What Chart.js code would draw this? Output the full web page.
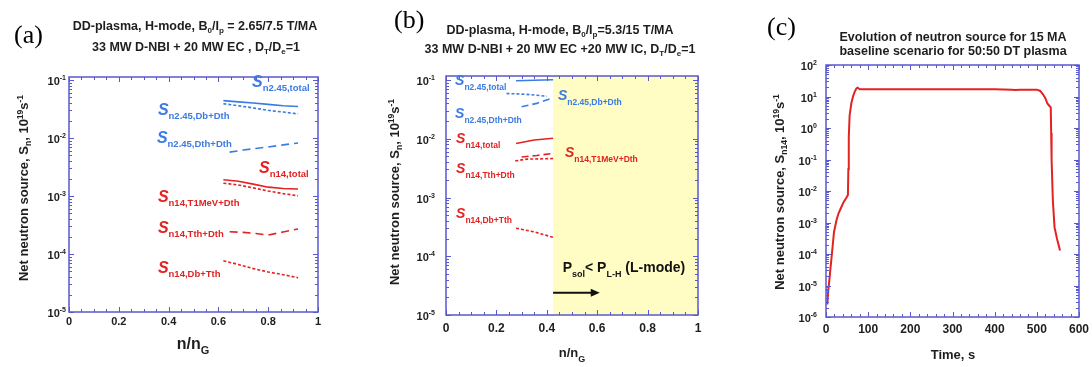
<!DOCTYPE html>
<html>
<head>
<meta charset="utf-8">
<script src="https://cdn.jsdelivr.net/npm/chart.js@4/dist/chart.umd.min.js"></script>
<style>
    body { margin: 0; background: #fff; width: 1092px; height: 367px; overflow: hidden; position: relative; }
    canvas { position: absolute; top: 0; }
</style>
</head>
<body>
<canvas id="graficoA" width="364" height="367" style="left:0px"></canvas>
<canvas id="graficoB" width="364" height="367" style="left:364px"></canvas>
<canvas id="graficoC" width="364" height="367" style="left:728px"></canvas>
<script>
// ---- dados (a): B0/Ip = 2.65/7.5 T/MA ----
const nA = [0.62, 0.68, 0.74, 0.80, 0.86, 0.92];
const nA2 = [0.645, 0.70, 0.75, 0.80, 0.86, 0.92];
const a_n245_total = [0.044, 0.042, 0.040, 0.038, 0.036, 0.035];
const a_n245_DbDth = [0.039, 0.036, 0.033, 0.030, 0.028, 0.026];
const a_n245_DthDth = [0.0057, 0.0062, 0.0066, 0.0070, 0.0076, 0.0082];
const a_n14_total = [0.0019, 0.0018, 0.0016, 0.00142, 0.00135, 0.00132];
const a_n14_T1MeVDth = [0.00166, 0.00155, 0.00138, 0.00122, 0.00110, 0.00101];
const a_n14_TthDth = [0.000242, 0.000236, 0.000225, 0.000212, 0.000240, 0.000270];
const a_n14_DbTth = [0.0000766, 0.0000660, 0.0000560, 0.0000490, 0.0000440, 0.0000390];

// ---- dados (b): B0/Ip = 5.3/15 T/MA ----
const nB = [0.278, 0.35, 0.425];
const nB_ponto = [0.24, 0.32, 0.40];
const nB_traco = [0.30, 0.36, 0.42];
const nB_ponto14 = [0.275, 0.32, 0.425];
const b_n245_total = [0.097, 0.099, 0.101];
const b_n245_DbDth = [0.059, 0.057, 0.053];
const b_n245_DthDth = [0.035, 0.040, 0.049];
const b_n14_total = [0.0083, 0.0095, 0.0102];
const b_n14_T1MeVDth = [0.0049, 0.0052, 0.0056];
const b_n14_TthDth = [0.0042, 0.0045, 0.0046];
const b_n14_DbTth = [0.00030, 0.00026, 0.00021];
const inicioModoL = 0.425;

// ---- dados (c): 15 MA, DT 50:50 ----
const tempoC = [3, 5, 8, 11, 14, 19, 25, 30, 36, 42, 48, 52, 53, 54, 56, 60, 64, 68, 72, 75, 80, 100, 200, 300, 400, 440, 450, 460, 480, 500, 508, 514, 520, 525, 530, 533, 534, 535, 538, 542, 548, 555];
const fonteC = [2.5e-6, 6e-6, 1.5e-5, 4e-5, 1e-4, 5e-4, 1.2e-3, 2e-3, 3e-3, 4.5e-3, 6e-3, 7.5e-3, 0.05, 0.5, 2.5, 6, 10, 14, 18, 19, 17, 17, 17, 17, 17, 16.5, 16, 16.5, 16.5, 16.5, 15, 12, 9, 6, 5, 4.5, 0.7, 0.1, 0.005, 7e-4, 3e-4, 1.3e-4];

// rótulos dos eixos
const ticksX_ab = [0, 0.2, 0.4, 0.6, 0.8, 1];
const rotulosX_ab = ['0', '0.2', '0.4', '0.6', '0.8', '1'];
const ticksX_c = [0, 100, 200, 300, 400, 500, 600];
const rotulosX_c = ['0', '100', '200', '300', '400', '500', '600'];
const expoentes_ab = [-5, -4, -3, -2, -1];
const expoentes_c = [-6, -5, -4, -3, -2, -1, 0, 1, 2];

const familia = '"Liberation Sans", Arial, sans-serif';
const corMoldura = '#5858cf';
const corAzul = '#3b7be3';
const corVermelho = '#e32222';
const corAmarelo = '#fffcc4';
const corTexto = '#1e1e1e';

function N(t, tam, cor) { return { texto: t, fonte: `bold ${tam}px ${familia}`, cor: cor }; }
function SUB(t, tam, dy, cor) { return { texto: t, fonte: `bold ${tam}px ${familia}`, dy: dy, cor: cor }; }
function SUP(t, tam, dy, cor) { return { texto: t, fonte: `bold ${tam}px ${familia}`, dy: -dy, cor: cor }; }

function desenharRico(ctx, partes, x, y, alinhamento) {
    let largura = 0;
    partes.forEach(p => { ctx.font = p.fonte; largura += ctx.measureText(p.texto).width; });
    let cx = x;
    if (alinhamento === 'center') cx = x - largura / 2;
    if (alinhamento === 'right') cx = x - largura;
    partes.forEach(p => {
        ctx.font = p.fonte;
        ctx.fillStyle = p.cor || corTexto;
        ctx.fillText(p.texto, cx, y + (p.dy || 0));
        cx += ctx.measureText(p.texto).width;
    });
}

function serie(xs, vs, cor, tracejado, largura) {
    return {
        data: xs.map((x, i) => ({ x: x, y: vs[i] })),
        borderColor: cor,
        borderWidth: largura || 1.6,
        borderDash: tracejado,
        pointRadius: 0,
        fill: false,
        tension: 0
    };
}

function linha(ctx, x1, y1, x2, y2) {
    ctx.beginPath(); ctx.moveTo(x1, y1); ctx.lineTo(x2, y2); ctx.stroke();
}

// moldura, ticks para dentro, rótulos e anotações
function pluginPainel(cfg) {
    return {
        id: 'painel' + cfg.nome,
        beforeDatasetsDraw(chart) {
            const { ctx, chartArea: a, scales: { x } } = chart;
            if (cfg.sombra !== undefined) {
                const x0 = x.getPixelForValue(cfg.sombra);
                ctx.save();
                ctx.fillStyle = corAmarelo;
                ctx.fillRect(x0, a.top, a.right - x0, a.bottom - a.top);
                ctx.restore();
            }
        },
        afterDatasetsDraw(chart) {
            const { ctx, chartArea: a, scales: { x, y } } = chart;
            ctx.save();
            ctx.strokeStyle = corMoldura;
            ctx.lineWidth = 1;
            // ticks x
            const passoMenor = cfg.xPassoMenor;
            const nMenor = Math.round((cfg.xMax - cfg.xMin) / passoMenor);
            for (let i = 0; i <= nMenor; i++) {
                const v = cfg.xMin + i * passoMenor;
                const px = Math.round(x.getPixelForValue(v)) + 0.5;
                const maior = i % cfg.menoresPorMaior === 0;
                const L = maior ? 5 : 3;
                linha(ctx, px, a.bottom, px, a.bottom - L);
                linha(ctx, px, a.top, px, a.top + L);
            }
            // ticks y (log)
            for (let e = cfg.expoentes[0]; e <= cfg.expoentes[cfg.expoentes.length - 1]; e++) {
                for (let m = 1; m <= 9; m++) {
                    const v = m * Math.pow(10, e);
                    if (v > y.max * 1.0001 || v < y.min * 0.9999) continue;
                    const py = Math.round(y.getPixelForValue(v)) + 0.5;
                    const L = m === 1 ? 5 : 3;
                    linha(ctx, a.left, py, a.left + L, py);
                    linha(ctx, a.right, py, a.right - L, py);
                }
            }
            ctx.lineWidth = 1.5;
            ctx.strokeRect(a.left, a.top, a.right - a.left, a.bottom - a.top);

            // rótulos x
            ctx.textBaseline = 'alphabetic';
            cfg.ticksX.forEach((v, i) => {
                desenharRico(ctx, [N(cfg.rotulosX[i], cfg.tamTick)], x.getPixelForValue(v), a.bottom + cfg.dyTickX, 'center');
            });
            // rótulos y 10^n
            cfg.expoentes.forEach(e => {
                const py = y.getPixelForValue(Math.pow(10, e));
                desenharRico(ctx, [N('10', 11), SUP(String(e), 7, 5)], a.left - cfg.gapY, py + 5, 'right');
            });

            // títulos
            cfg.titulo.forEach(t => desenharRico(ctx, t.partes, t.x, t.y, 'center'));
            desenharRico(ctx, [{ texto: cfg.letra.texto, fonte: `${cfg.letra.tam}px "Liberation Serif", "Times New Roman", serif`, cor: '#000' }], cfg.letra.x, cfg.letra.y, 'left');

            // título eixo y (rotacionado)
            ctx.save();
            ctx.translate(cfg.eixoY.x, cfg.eixoY.y);
            ctx.rotate(-Math.PI / 2);
            desenharRico(ctx, cfg.eixoY.partes, 0, 0, 'center');
            ctx.restore();
            // título eixo x
            desenharRico(ctx, cfg.eixoX.partes, cfg.eixoX.x, cfg.eixoX.y, 'center');

            // rótulos das séries (S com subscrito)
            cfg.rotulos.forEach(r => {
                const px = x.getPixelForValue(r.x);
                const py = y.getPixelForValue(r.y);
                desenharRico(ctx, [
                    { texto: 'S', fonte: `italic bold ${cfg.tamS}px ${familia}`, cor: r.cor },
                    SUB(r.sub, cfg.tamSub, cfg.dySub, r.cor)
                ], px, py, 'left');
            });

            if (cfg.extra) cfg.extra(chart);
            ctx.restore();
        }
    };
}

function criarPainel(id, cfg, datasets) {
    return new Chart(document.getElementById(id), {
        type: 'line',
        data: { datasets: datasets },
        options: {
            responsive: false,
            animation: false,
            devicePixelRatio: 1,
            layout: { padding: cfg.padding },
            plugins: { legend: { display: false }, tooltip: { enabled: false }, title: { display: false } },
            scales: {
                x: { type: 'linear', min: cfg.xMin, max: cfg.xMax, display: false },
                y: { type: 'logarithmic', min: cfg.yMin, max: cfg.yMax, display: false }
            }
        },
        plugins: [pluginPainel(cfg)]
    });
}

const tituloEixoY = (sub) => [N('Net neutron source, S', 13), SUB(sub, 8.5, 3), N(', 10', 13), SUP('19', 8.5, 5), N('s', 13), SUP('-1', 8.5, 5)];
const TT = 12.5; // fonte dos títulos
const TS = 8;

// ---- painel (a) ----
criarPainel('graficoA', {
    nome: 'A',
    padding: { left: 69, right: 46, top: 77, bottom: 55 },
    xMin: 0, xMax: 1, yMin: 1e-5, yMax: 0.1126,
    xPassoMenor: 0.05, menoresPorMaior: 4,
    ticksX: ticksX_ab, rotulosX: rotulosX_ab, tamTick: 11, dyTickX: 13,
    expoentes: expoentes_ab, gapY: 3,
    titulo: [
        { x: 195, y: 30, partes: [N('DD-plasma, H-mode, B', TT), SUB('0', TS, 3), N('/I', TT), SUB('p', TS, 3), N(' = 2.65/7.5 T/MA', TT)] },
        { x: 196, y: 51, partes: [N('33 MW D-NBI + 20 MW EC , D', TT), SUB('T', TS, 3), N('/D', TT), SUB('e', TS, 3), N('=1', TT)] }
    ],
    letra: { texto: '(a)', tam: 26, x: 14, y: 43 },
    eixoY: { x: 28, y: 188, partes: tituloEixoY('n') },
    eixoX: { x: 193, y: 349, partes: [N('n/n', 16), SUB('G', 11, 5)] },
    tamS: 16, tamSub: 9.5, dySub: 4,
    rotulos: [
        { x: 0.735, y: 0.0757, cor: corAzul, sub: 'n2.45,total' },
        { x: 0.357, y: 0.0249, cor: corAzul, sub: 'n2.45,Db+Dth' },
        { x: 0.353, y: 0.0082, cor: corAzul, sub: 'n2.45,Dth+Dth' },
        { x: 0.763, y: 0.0025, cor: corVermelho, sub: 'n14,total' },
        { x: 0.357, y: 0.00079, cor: corVermelho, sub: 'n14,T1MeV+Dth' },
        { x: 0.357, y: 0.00023, cor: corVermelho, sub: 'n14,Tth+Dth' },
        { x: 0.357, y: 0.000047, cor: corVermelho, sub: 'n14,Db+Tth' }
    ]
}, [
    serie(nA, a_n245_total, corAzul, []),
    serie(nA, a_n245_DbDth, corAzul, [3, 2]),
    serie(nA2, a_n245_DthDth, corAzul, [8, 5]),
    serie(nA, a_n14_total, corVermelho, []),
    serie(nA, a_n14_T1MeVDth, corVermelho, [3, 2]),
    serie(nA2, a_n14_TthDth, corVermelho, [8, 5]),
    serie(nA, a_n14_DbTth, corVermelho, [3, 2])
]);

// ---- painel (b) ----
criarPainel('graficoB', {
    nome: 'B',
    padding: { left: 82, right: 30, top: 76, bottom: 52 },
    xMin: 0, xMax: 1, yMin: 1e-5, yMax: 0.117,
    xPassoMenor: 0.05, menoresPorMaior: 4,
    ticksX: ticksX_ab, rotulosX: rotulosX_ab, tamTick: 12, dyTickX: 17,
    expoentes: expoentes_ab, gapY: 11,
    sombra: inicioModoL,
    titulo: [
        { x: 196, y: 34, partes: [N('DD-plasma, H-mode, B', TT), SUB('0', TS, 3), N('/I', TT), SUB('p', TS, 3), N('=5.3/15 T/MA', TT)] },
        { x: 196, y: 53, partes: [N('33 MW D-NBI + 20 MW EC +20 MW IC, D', TT), SUB('T', TS, 3), N('/D', TT), SUB('e', TS, 3), N('=1', TT)] }
    ],
    letra: { texto: '(b)', tam: 26, x: 30, y: 28 },
    eixoY: { x: 35, y: 192, partes: tituloEixoY('n') },
    eixoX: { x: 208, y: 357, partes: [N('n/n', 13), SUB('G', 9, 5)] },
    tamS: 14, tamSub: 8.5, dySub: 5,
    rotulos: [
        { x: 0.036, y: 0.082, cor: corAzul, sub: 'n2.45,total' },
        { x: 0.444, y: 0.0455, cor: corAzul, sub: 'n2.45,Db+Dth' },
        { x: 0.036, y: 0.0224, cor: corAzul, sub: 'n2.45,Dth+Dth' },
        { x: 0.040, y: 0.0084, cor: corVermelho, sub: 'n14,total' },
        { x: 0.472, y: 0.0048, cor: corVermelho, sub: 'n14,T1MeV+Dth' },
        { x: 0.040, y: 0.0026, cor: corVermelho, sub: 'n14,Tth+Dth' },
        { x: 0.040, y: 0.000455, cor: corVermelho, sub: 'n14,Db+Tth' }
    ],
    extra: (chart) => {
        const { ctx, scales: { x, y } } = chart;
        // P_sol < P_L-H (L-mode)
        desenharRico(ctx, [N('P', 14, '#111'), SUB('sol', 9, 5, '#111'), N('< P', 14, '#111'), SUB('L-H', 9, 5, '#111'), N(' (L-mode)', 14, '#111')],
            x.getPixelForValue(0.463), y.getPixelForValue(5.3e-5), 'left');
        // seta
        const x0 = x.getPixelForValue(inicioModoL);
        const x1 = x.getPixelForValue(0.61);
        const py = y.getPixelForValue(2.4e-5);
        ctx.strokeStyle = '#111';
        ctx.fillStyle = '#111';
        ctx.lineWidth = 2;
        linha(ctx, x0, py, x1 - 6, py);
        ctx.beginPath();
        ctx.moveTo(x1, py); ctx.lineTo(x1 - 9, py - 4); ctx.lineTo(x1 - 9, py + 4); ctx.closePath();
        ctx.fill();
    }
}, [
    serie(nB, b_n245_total, corAzul, []),
    serie(nB_ponto, b_n245_DbDth, corAzul, [3, 2]),
    serie(nB_traco, b_n245_DthDth, corAzul, [7, 4]),
    serie(nB, b_n14_total, corVermelho, []),
    serie(nB_traco, b_n14_T1MeVDth, corVermelho, [7, 4]),
    serie(nB_ponto14, b_n14_TthDth, corVermelho, [3, 2]),
    serie(nB, b_n14_DbTth, corVermelho, [3, 2])
]);

// ---- painel (c) ----
criarPainel('graficoC', {
    nome: 'C',
    padding: { left: 98, right: 13, top: 65, bottom: 50 },
    xMin: 0, xMax: 600, yMin: 1e-6, yMax: 100,
    xPassoMenor: 20, menoresPorMaior: 5,
    ticksX: ticksX_c, rotulosX: rotulosX_c, tamTick: 12, dyTickX: 16,
    expoentes: expoentes_c, gapY: 9,
    titulo: [
        { x: 225, y: 41, partes: [N('Evolution of neutron source for 15 MA', TT)] },
        { x: 225, y: 55, partes: [N('baseline scenario for 50:50 DT plasma', TT)] }
    ],
    letra: { texto: '(c)', tam: 26, x: 39, y: 35 },
    eixoY: { x: 56, y: 192, partes: tituloEixoY('n14') },
    eixoX: { x: 225, y: 359, partes: [N('Time, s', 13)] },
    tamS: 14, tamSub: 9, dySub: 4,
    rotulos: []
}, [
    serie(tempoC, fonteC, corVermelho, [], 2)
]);
</script>
</body>
</html>
